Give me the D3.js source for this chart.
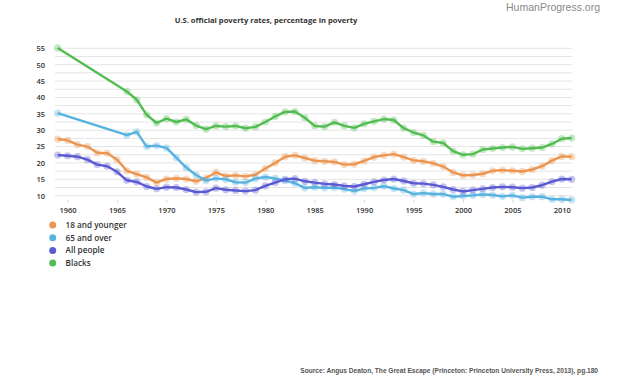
<!DOCTYPE html>
<html><head><meta charset="utf-8">
<script src="https://cdn.jsdelivr.net/npm/d3@7"></script>
<style>body{margin:0;background:#fff;}svg{display:block;}</style>
</head><body><svg id="c" width="617" height="383"></svg>
<script>
const years = d3.range(1959, 2012);
const allPeople = [22.4,22.2,21.9,21.0,19.5,19.0,17.3,14.7,14.2,12.8,12.1,12.6,12.5,11.9,11.1,11.2,12.3,11.8,11.6,11.4,11.7,13.0,14.0,15.0,15.2,14.4,14.0,13.6,13.4,13.0,12.8,13.5,14.2,14.8,15.1,14.5,13.8,13.7,13.3,12.7,11.9,11.3,11.7,12.1,12.5,12.7,12.6,12.3,12.5,13.2,14.3,15.1,15.0];
const children = [27.3,26.9,25.6,25.0,23.1,23.0,21.0,17.6,16.6,15.6,14.0,15.1,15.3,15.1,14.4,15.4,17.1,16.0,16.2,15.9,16.4,18.3,20.0,21.9,22.3,21.5,20.7,20.5,20.3,19.5,19.6,20.6,21.8,22.3,22.7,21.8,20.8,20.5,19.9,18.9,17.1,16.2,16.3,16.7,17.6,17.8,17.6,17.4,18.0,19.0,20.7,22.0,21.9];
const elderlyYears = [1959].concat(d3.range(1966, 2012));
const elderly = [35.2,28.5,29.5,25.0,25.3,24.6,21.6,18.6,16.3,14.6,15.3,15.0,14.1,14.0,15.2,15.7,15.3,14.6,13.8,12.4,12.6,12.4,12.5,12.0,11.4,12.2,12.4,12.9,12.2,11.7,10.5,10.8,10.5,10.5,9.7,9.9,10.1,10.4,10.2,9.8,10.1,9.4,9.7,9.7,8.9,8.9,8.7];
const blacksYears = [1959].concat(d3.range(1966, 2012));
const blacks = [55.1,41.8,39.3,34.7,32.2,33.5,32.5,33.3,31.4,30.3,31.3,31.1,31.3,30.6,31.0,32.5,34.2,35.6,35.7,33.8,31.3,31.1,32.4,31.3,30.7,31.9,32.7,33.4,33.1,30.6,29.3,28.4,26.5,26.1,23.6,22.5,22.7,24.1,24.4,24.7,24.9,24.3,24.5,24.7,25.8,27.4,27.6];
const seriesNames = ["18 and younger","65 and over","All people","Blacks"];
const seriesColors = ["#ec9550","#56b3e0","#5a5ad2","#52bd52"];
const yTicks = [10,15,20,25,30,35,40,45,50,55];
const xTicks = [1960,1965,1970,1975,1980,1985,1990,1995,2000,2005,2010];
const titleText = "U.S. official poverty rates, percentage in poverty";
const sourceText = "Source: Angus Deaton, The Great Escape (Princeton: Princeton University Press, 2013), pg.180";
const brandText = "HumanProgress.org";

const series = [
  {name: seriesNames[0], xs: years, ys: children, color: seriesColors[0]},
  {name: seriesNames[1], xs: elderlyYears, ys: elderly, color: seriesColors[1]},
  {name: seriesNames[2], xs: years, ys: allPeople, color: seriesColors[2]},
  {name: seriesNames[3], xs: blacksYears, ys: blacks, color: seriesColors[3]}
];

const svg = d3.select("#c");
const x = d3.scaleLinear().domain([1959, 2011]).range([57.7, 571.7]);
const y = d3.scaleLinear().domain([10, 55]).range([195.7, 48.3]);

const grid = d3.range(10, 55.01, 2.5);
svg.append("g").selectAll("line").data(grid).join("line")
  .attr("x1", 55).attr("x2", 572)
  .attr("y1", d => y(d)).attr("y2", d => y(d))
  .attr("stroke", "#e4e4e4").attr("stroke-width", 1);

const yAxis = d3.axisLeft(y).tickValues(yTicks).tickSize(0).tickPadding(0).tickFormat(d3.format("d"));
const ga = svg.append("g").attr("transform", "translate(45,0)").call(yAxis);
ga.select(".domain").remove();
ga.selectAll("text").attr("font-family", "'Open Sans', sans-serif").attr("font-size", "7.5px")
  .attr("font-weight", 600).attr("fill", "#333");

const xAxis = d3.axisBottom(x).tickValues(xTicks).tickSize(3).tickPadding(5).tickFormat(d3.format("d"));
const gx = svg.append("g").attr("transform", "translate(0,200)").call(xAxis);
gx.select(".domain").remove();
gx.selectAll("line").attr("stroke", "#ddd");
gx.selectAll("text").attr("font-family", "'Open Sans', sans-serif").attr("font-size", "7.5px")
  .attr("font-weight", 600).attr("fill", "#333");

const line = d3.line().curve(d3.curveLinear);
series.forEach(s => {
  const pts = s.xs.map((yr, i) => [x(yr), y(s.ys[i])]);
  const g = svg.append("g");
  g.append("path").attr("d", line(pts)).attr("fill", "none")
    .attr("stroke", s.color).attr("stroke-width", 2.4).attr("stroke-linejoin", "round");
  g.selectAll("circle").data(pts).join("circle")
    .attr("cx", d => d[0]).attr("cy", d => d[1]).attr("r", 3.6)
    .attr("fill", s.color).attr("fill-opacity", 0.35);
});

const lg = svg.append("g");
series.forEach((s, i) => {
  const yy = 225 + i * 12.7;
  lg.append("circle").attr("cx", 52.7).attr("cy", yy).attr("r", 3.5).attr("fill", s.color);
  lg.append("text").attr("x", 65.5).attr("y", yy + 2.9).text(s.name)
    .attr("font-family", "'Open Sans', sans-serif").attr("font-size", "8.2px")
    .attr("font-weight", 600).attr("fill", "#333");
});

svg.append("text").attr("x", 266).attr("y", 23).attr("text-anchor", "middle").text(titleText)
  .attr("font-family", "'Open Sans', sans-serif").attr("font-size", "7.6px").attr("font-weight", 700).attr("fill", "#333");
svg.append("text").attr("x", 600).attr("y", 11).attr("text-anchor", "end").text(brandText)
  .attr("font-family", "'Liberation Sans', Arial, sans-serif").attr("font-size", "10.5px").attr("fill", "#8a8a8a");
svg.append("text").attr("x", 598).attr("y", 372.5).attr("text-anchor", "end").text(sourceText)
  .attr("font-family", "'Liberation Sans', Arial, sans-serif").attr("font-size", "6.6px").attr("font-weight", 700).attr("fill", "#555");
</script></body></html>
